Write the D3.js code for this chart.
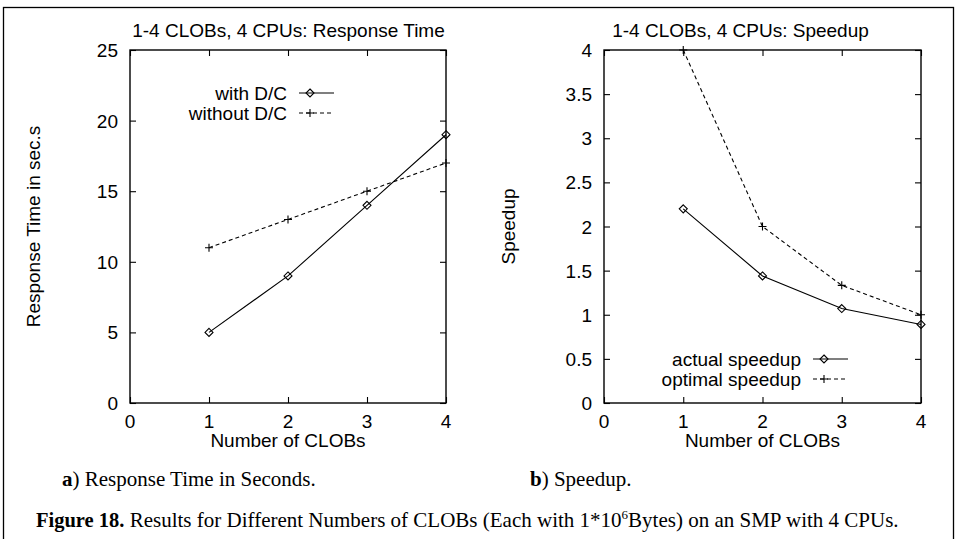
<!DOCTYPE html>
<html>
<head>
<meta charset="utf-8">
<script src="https://cdn.jsdelivr.net/npm/d3@7"></script>
<style>
    body { margin: 0; background: #fff; }
    svg { display: block; }
    .sans { font-family: "Liberation Sans", Arial, Helvetica, sans-serif; fill: #000; }
    .serif { font-family: "Liberation Serif", "Times New Roman", serif; fill: #000; }
</style>
</head>
<body>
<svg id="chart" width="958" height="539"></svg>
<script>
"use strict";

// data
const clobs = [1, 2, 3, 4];
const with_dc = [5, 9, 14, 19];
const without_dc = [11, 13, 15, 17];
const actual_speedup = [2.2, 1.44, 1.07, 0.89];
const optimal_speedup = [4, 2, 1.333, 1];
const x_ticks = [0, 1, 2, 3, 4];
const time_ticks = [0, 5, 10, 15, 20, 25];
const speedup_ticks = [0, 0.5, 1, 1.5, 2, 2.5, 3, 3.5, 4];

const svg = d3.select('#chart');
const tick_size = 6;
const font_size = 19;

// frame around the whole figure (bottom edge runs off the page)
svg.append('rect')
    .attr('x', 3.5).attr('y', 7.5)
    .attr('width', 950).attr('height', 560)
    .attr('fill', 'none').attr('stroke', '#000').attr('stroke-width', 1.3);

function diamond(g, x, y) {
    g.append('path')
        .attr('d', `M${x},${y - 4}L${x + 4},${y}L${x},${y + 4}L${x - 4},${y}Z`)
        .attr('fill', 'none').attr('stroke', '#000').attr('stroke-width', 1.1);
}

function plus(g, x, y) {
    g.append('path')
        .attr('d', `M${x - 4},${y}H${x + 4}M${x},${y - 4}V${y + 4}`)
        .attr('fill', 'none').attr('stroke', '#000').attr('stroke-width', 1.1);
}

function draw_panel(opts) {
    const {left, right, top, bottom, y_max, y_ticks, title, title_x, y_label, y_label_x, series, legend} = opts;
    const x = d3.scaleLinear().domain([0, 4]).range([left, right]);
    const y = d3.scaleLinear().domain([0, y_max]).range([bottom, top]);
    const g = svg.append('g');

    // mirrored inward ticks on all four sides
    const axes = [
        d3.axisBottom(x).tickValues(x_ticks),
        d3.axisTop(x).tickValues(x_ticks),
        d3.axisLeft(y).tickValues(y_ticks),
        d3.axisRight(y).tickValues(y_ticks)
    ];
    const offsets = [`translate(0,${bottom})`, `translate(0,${top})`, `translate(${left},0)`, `translate(${right},0)`];
    axes.forEach((axis, i) => {
        axis.tickSizeInner(-tick_size).tickSizeOuter(0).tickFormat('');
        const a = g.append('g').attr('transform', offsets[i]).call(axis);
        a.select('.domain').remove();
        a.selectAll('text').remove();
        a.selectAll('line').attr('stroke', '#000').attr('stroke-width', 1.1);
    });

    g.append('rect')
        .attr('x', left).attr('y', top)
        .attr('width', right - left).attr('height', bottom - top)
        .attr('fill', 'none').attr('stroke', '#000').attr('stroke-width', 1.4);

    // tick labels
    g.selectAll('.xl').data(x_ticks).enter().append('text')
        .attr('class', 'sans').attr('font-size', font_size)
        .attr('x', d => x(d)).attr('y', bottom + 25)
        .attr('text-anchor', 'middle')
        .text(d => d);
    g.selectAll('.yl').data(y_ticks).enter().append('text')
        .attr('class', 'sans').attr('font-size', font_size)
        .attr('x', left - 12).attr('y', d => y(d) + 7)
        .attr('text-anchor', 'end')
        .text(d => d);

    g.append('text').attr('class', 'sans').attr('font-size', font_size)
        .attr('x', title_x).attr('y', 37).attr('text-anchor', 'middle')
        .text(title);
    g.append('text').attr('class', 'sans').attr('font-size', font_size)
        .attr('x', (left + right) / 2).attr('y', bottom + 44).attr('text-anchor', 'middle')
        .text('Number of CLOBs');
    g.append('text').attr('class', 'sans').attr('font-size', font_size)
        .attr('transform', `translate(${y_label_x},${(top + bottom) / 2}) rotate(-90)`)
        .attr('text-anchor', 'middle')
        .text(y_label);

    const line = d3.line().x((d, i) => x(clobs[i])).y(d => y(d));
    series.forEach((s, k) => {
        g.append('path').datum(s.values)
            .attr('d', line)
            .attr('fill', 'none').attr('stroke', '#000').attr('stroke-width', 1.1)
            .attr('stroke-dasharray', s.dashed ? '4,3' : null);
        s.values.forEach((v, i) => s.marker(g, x(clobs[i]), y(v)));

        // legend entry
        const ly = legend.y + k * 20;
        g.append('text').attr('class', 'sans').attr('font-size', font_size)
            .attr('x', legend.text_x).attr('y', ly + 7).attr('text-anchor', 'end')
            .text(s.name);
        g.append('line')
            .attr('x1', legend.text_x + 12).attr('x2', legend.text_x + 47)
            .attr('y1', ly).attr('y2', ly)
            .attr('stroke', '#000').attr('stroke-width', 1.1)
            .attr('stroke-dasharray', s.dashed ? '4,3' : null);
        s.marker(g, legend.text_x + 23, ly);
    });
}

draw_panel({
    left: 130, right: 446, top: 50, bottom: 403,
    y_max: 25, y_ticks: time_ticks,
    title: '1-4 CLOBs, 4 CPUs: Response Time', title_x: 288.5,
    y_label: 'Response Time in sec.s', y_label_x: 40,
    series: [
        {name: 'with D/C', values: with_dc, marker: diamond, dashed: false},
        {name: 'without D/C', values: without_dc, marker: plus, dashed: true}
    ],
    legend: {text_x: 287, y: 93}
});

draw_panel({
    left: 604, right: 921, top: 50, bottom: 403,
    y_max: 4, y_ticks: speedup_ticks,
    title: '1-4 CLOBs, 4 CPUs: Speedup', title_x: 740.5,
    y_label: 'Speedup', y_label_x: 515,
    series: [
        {name: 'actual speedup', values: actual_speedup, marker: diamond, dashed: false},
        {name: 'optimal speedup', values: optimal_speedup, marker: plus, dashed: true}
    ],
    legend: {text_x: 801, y: 359}
});

// captions
const cap_a = svg.append('text').attr('class', 'serif').attr('font-size', 21)
    .attr('x', 62).attr('y', 486);
cap_a.append('tspan').attr('font-weight', 'bold').text('a');
cap_a.append('tspan').text(') Response Time in Seconds.');

const cap_b = svg.append('text').attr('class', 'serif').attr('font-size', 21)
    .attr('x', 530).attr('y', 486);
cap_b.append('tspan').attr('font-weight', 'bold').text('b');
cap_b.append('tspan').text(') Speedup.');

const fig = svg.append('text').attr('class', 'serif').attr('font-size', 21)
    .attr('x', 36).attr('y', 527);
fig.append('tspan').attr('font-weight', 'bold').attr('font-size', 20.5).text('Figure 18.');
fig.append('tspan').text(' Results for Different Numbers of CLOBs (Each with 1*10');
fig.append('tspan').attr('font-size', 13).attr('dy', -8).text('6');
fig.append('tspan').attr('dy', 8).text('Bytes) on an SMP with 4 CPUs.');
</script>
</body>
</html>
